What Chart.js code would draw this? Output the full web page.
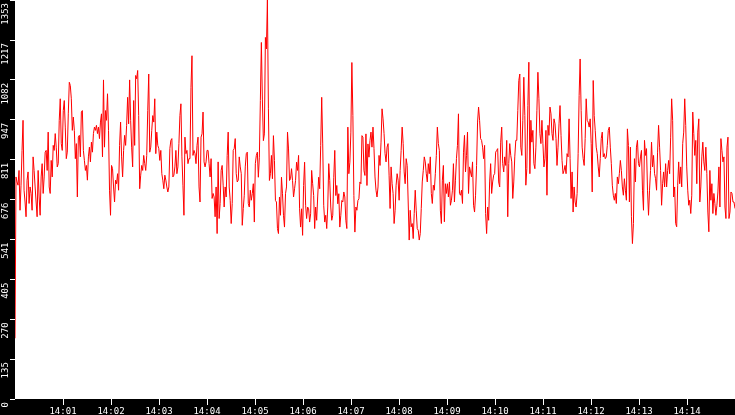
<!DOCTYPE html>
<html>
<head>
<meta charset="utf-8">
<script src="https://cdn.jsdelivr.net/npm/chart.js@4/dist/chart.umd.min.js"></script>
<style>
    html, body { margin: 0; padding: 0; background: #000; overflow: hidden; }
    canvas { display: block; }
</style>
</head>
<body>
<canvas id="grafico" width="735" height="415"></canvas>
<script>
// eixo Y: marcas e teto
const Y_TICKS = [0, 135, 270, 405, 541, 676, 811, 947, 1082, 1217, 1353];
const Y_MAX = 1353;

// eixo X: segundos desde 14:00:00
const X_TICK_LABELS = ['14:01', '14:02', '14:03', '14:04', '14:05', '14:06', '14:07',
                       '14:08', '14:09', '14:10', '14:11', '14:12', '14:13', '14:14'];
const X_TICK_SECONDS = [60, 120, 180, 240, 300, 360, 420, 480, 540, 600, 660, 720, 780, 840];
const SPAN_SECONDS = 900;

// leituras, em trechos de 2,5 min
const trecho1400 = [206, 753, 736, 725, 775, 640, 725, 843, 945, 708, 668, 618, 742, 770, 663, 719, 697, 640, 821, 775,
    719, 668, 618, 775, 685, 623, 753, 798, 697, 753, 837, 843, 775, 905, 719, 697, 809, 753, 860, 843,
    900, 854, 787, 798, 945, 1018, 866, 843, 978, 1012, 922, 815, 837, 967, 1074, 1063, 1018, 911, 956, 911,
    815, 866, 685, 888, 894, 821, 973, 978, 843, 809, 775, 792, 742, 821, 854, 804, 871, 837, 900, 922,
    911, 928, 900, 922, 883, 939, 967, 821, 1082, 854, 978, 945, 1035, 911, 708, 623, 792, 781, 719, 668,
    742, 730, 764, 708, 860, 939, 821, 753, 843, 894, 860, 928, 1023, 933, 1082, 945, 854, 787];
const trecho1402 = [1012, 860, 1097, 1086, 1114, 961, 713, 759, 792, 775, 826, 798, 775, 826, 978, 1102, 837, 854, 911, 961,
    939, 1018, 832, 905, 860, 849, 809, 843, 764, 742, 713, 759, 742, 719, 702, 719, 849, 877, 883, 753,
    759, 787, 843, 764, 787, 866, 961, 1001, 821, 725, 623, 888, 832, 843, 798, 815, 815, 1057, 1164, 826,
    843, 832, 798, 860, 888, 719, 668, 888, 899, 973, 804, 787, 804, 843, 843, 798, 753, 815, 680, 697,
    685, 618, 719, 561, 804, 612, 663, 775, 792, 725, 651, 719, 685, 826, 905, 719, 674, 595, 663, 843,
    849, 883, 764, 736, 742, 821, 787, 764, 589, 646, 691, 787, 832, 837, 663, 651, 708, 674, 697, 730];
const trecho1405 = [600, 798, 826, 837, 752, 820, 1012, 1209, 1017, 876, 899, 1226, 1187, 1353, 984, 741, 764, 826, 747, 893,
    809, 673, 668, 578, 561, 685, 623, 752, 696, 623, 583, 696, 719, 905, 848, 741, 747, 781, 741, 685,
    713, 741, 803, 775, 826, 645, 583, 645, 555, 724, 803, 657, 612, 651, 645, 600, 628, 775, 730, 690,
    578, 651, 606, 685, 752, 713, 860, 1023, 865, 657, 600, 623, 578, 651, 798, 741, 651, 606, 623, 752,
    843, 690, 724, 662, 696, 583, 623, 673, 668, 702, 685, 606, 578, 922, 764, 803, 905, 1141, 961, 690,
    566, 651, 640, 673, 679, 736, 730, 893, 888, 775, 758, 899, 724, 865, 820, 876, 905, 854, 922];
const trecho1407 = [849, 753, 708, 685, 719, 826, 792, 871, 984, 950, 900, 832, 804, 854, 866, 759, 646, 787, 730, 697,
    595, 640, 725, 764, 742, 674, 775, 843, 922, 866, 770, 730, 815, 792, 668, 539, 640, 584, 595, 544,
    629, 708, 640, 578, 572, 539, 561, 646, 736, 775, 821, 804, 764, 736, 798, 764, 821, 697, 663, 725,
    708, 764, 826, 922, 866, 843, 640, 595, 742, 792, 601, 730, 697, 730, 685, 736, 657, 674, 708, 798,
    668, 742, 815, 860, 967, 697, 691, 708, 663, 837, 894, 770, 826, 905, 697, 787, 770, 753, 804, 657,
    634, 691, 792, 939, 990, 945, 883, 877, 854, 815, 860, 629, 561, 651, 606, 736, 798, 697, 736, 759];
const trecho1410 = [764, 837, 843, 849, 736, 719, 871, 922, 798, 770, 821, 792, 877, 618, 798, 866, 826, 804, 680, 736,
    821, 877, 877, 978, 1080, 1102, 854, 826, 945, 1091, 961, 725, 781, 995, 1142, 764, 945, 871, 911, 798,
    781, 854, 978, 1108, 1018, 900, 866, 945, 866, 787, 815, 911, 691, 928, 894, 990, 967, 900, 877, 950,
    933, 883, 792, 854, 933, 995, 894, 809, 764, 775, 792, 764, 832, 821, 950, 815, 680, 770, 634, 719,
    668, 651, 697, 832, 1029, 1153, 978, 854, 815, 792, 883, 1018, 945, 939, 922, 950, 866, 702, 1080, 961,
    911, 854, 832, 787, 753, 815, 883, 905, 821, 832, 815, 821, 860, 911, 922, 854, 798, 725, 691, 674];
const trecho1412 = [697, 663, 753, 730, 764, 809, 775, 719, 691, 747, 708, 674, 916, 860, 668, 854, 618, 527, 595, 815,
    736, 854, 877, 798, 787, 821, 843, 708, 640, 877, 826, 849, 708, 623, 708, 775, 871, 787, 826, 764,
    747, 708, 837, 928, 854, 775, 657, 730, 770, 719, 798, 719, 775, 809, 764, 888, 1018, 945, 685, 719,
    595, 584, 725, 804, 730, 787, 719, 866, 905, 1018, 928, 787, 708, 657, 674, 629, 691, 973, 900, 826,
    877, 730, 905, 950, 668, 719, 821, 871, 804, 775, 854, 764, 634, 567, 775, 674, 730, 629, 697, 663,
    623, 657, 702, 787, 651, 883, 843, 804, 821, 651, 612, 854, 888, 612, 634, 702, 697, 668, 668, 646];

const leituras = [].concat(trecho1400, trecho1402, trecho1405, trecho1407, trecho1410, trecho1412);
const passo = SPAN_SECONDS / (leituras.length - 1);
const pontos = leituras.map((v, i) => ({ x: i * passo, y: v }));

// fundo preto fora da area do grafico, branco dentro
const fundo = {
    id: 'fundo',
    beforeDraw(chart) {
        const { ctx, chartArea: a } = chart;
        ctx.save();
        ctx.fillStyle = '#000';
        ctx.fillRect(0, 0, chart.width, chart.height);
        ctx.fillStyle = '#fff';
        ctx.fillRect(a.left, a.top, a.right - a.left, a.bottom - a.top);
        ctx.restore();
    }
};

const fonte = { family: 'DejaVu Sans Mono', size: 9 };

new Chart(document.getElementById('grafico'), {
    type: 'line',
    data: {
        datasets: [{
            data: pontos,
            borderColor: '#ff0000',
            borderWidth: 1,
            pointRadius: 0,
            tension: 0,
            fill: false
        }]
    },
    options: {
        responsive: false,
        animation: false,
        devicePixelRatio: 1,
        layout: { padding: 0 },
        plugins: { legend: { display: false }, tooltip: { enabled: false } },
        scales: {
            x: {
                type: 'linear',
                min: 0,
                max: SPAN_SECONDS,
                afterBuildTicks: s => { s.ticks = X_TICK_SECONDS.map(v => ({ value: v })); },
                afterFit: s => { s.height = 16; s.paddingLeft = 0; s.paddingRight = 0; },
                grid: { drawOnChartArea: false, color: '#fff', tickLength: 6 },
                border: { display: false },
                ticks: {
                    color: '#fff',
                    font: fonte,
                    padding: 1,
                    autoSkip: false,
                    maxRotation: 0,
                    minRotation: 0,
                    callback: v => X_TICK_LABELS[X_TICK_SECONDS.indexOf(v)]
                }
            },
            y: {
                min: 0,
                max: Y_MAX,
                afterBuildTicks: s => { s.ticks = Y_TICKS.map(v => ({ value: v })); },
                afterFit: s => { s.width = 15; s.paddingTop = 0; s.paddingBottom = 0; },
                grid: { drawOnChartArea: false, color: '#fff', tickLength: 5 },
                border: { display: false },
                ticks: {
                    color: '#fff',
                    font: fonte,
                    padding: 4,
                    autoSkip: false,
                    minRotation: 90,
                    maxRotation: 90,
                    labelOffset: 3,
                    callback: v => String(v)
                }
            }
        }
    },
    plugins: [fundo]
});
</script>
</body>
</html>
